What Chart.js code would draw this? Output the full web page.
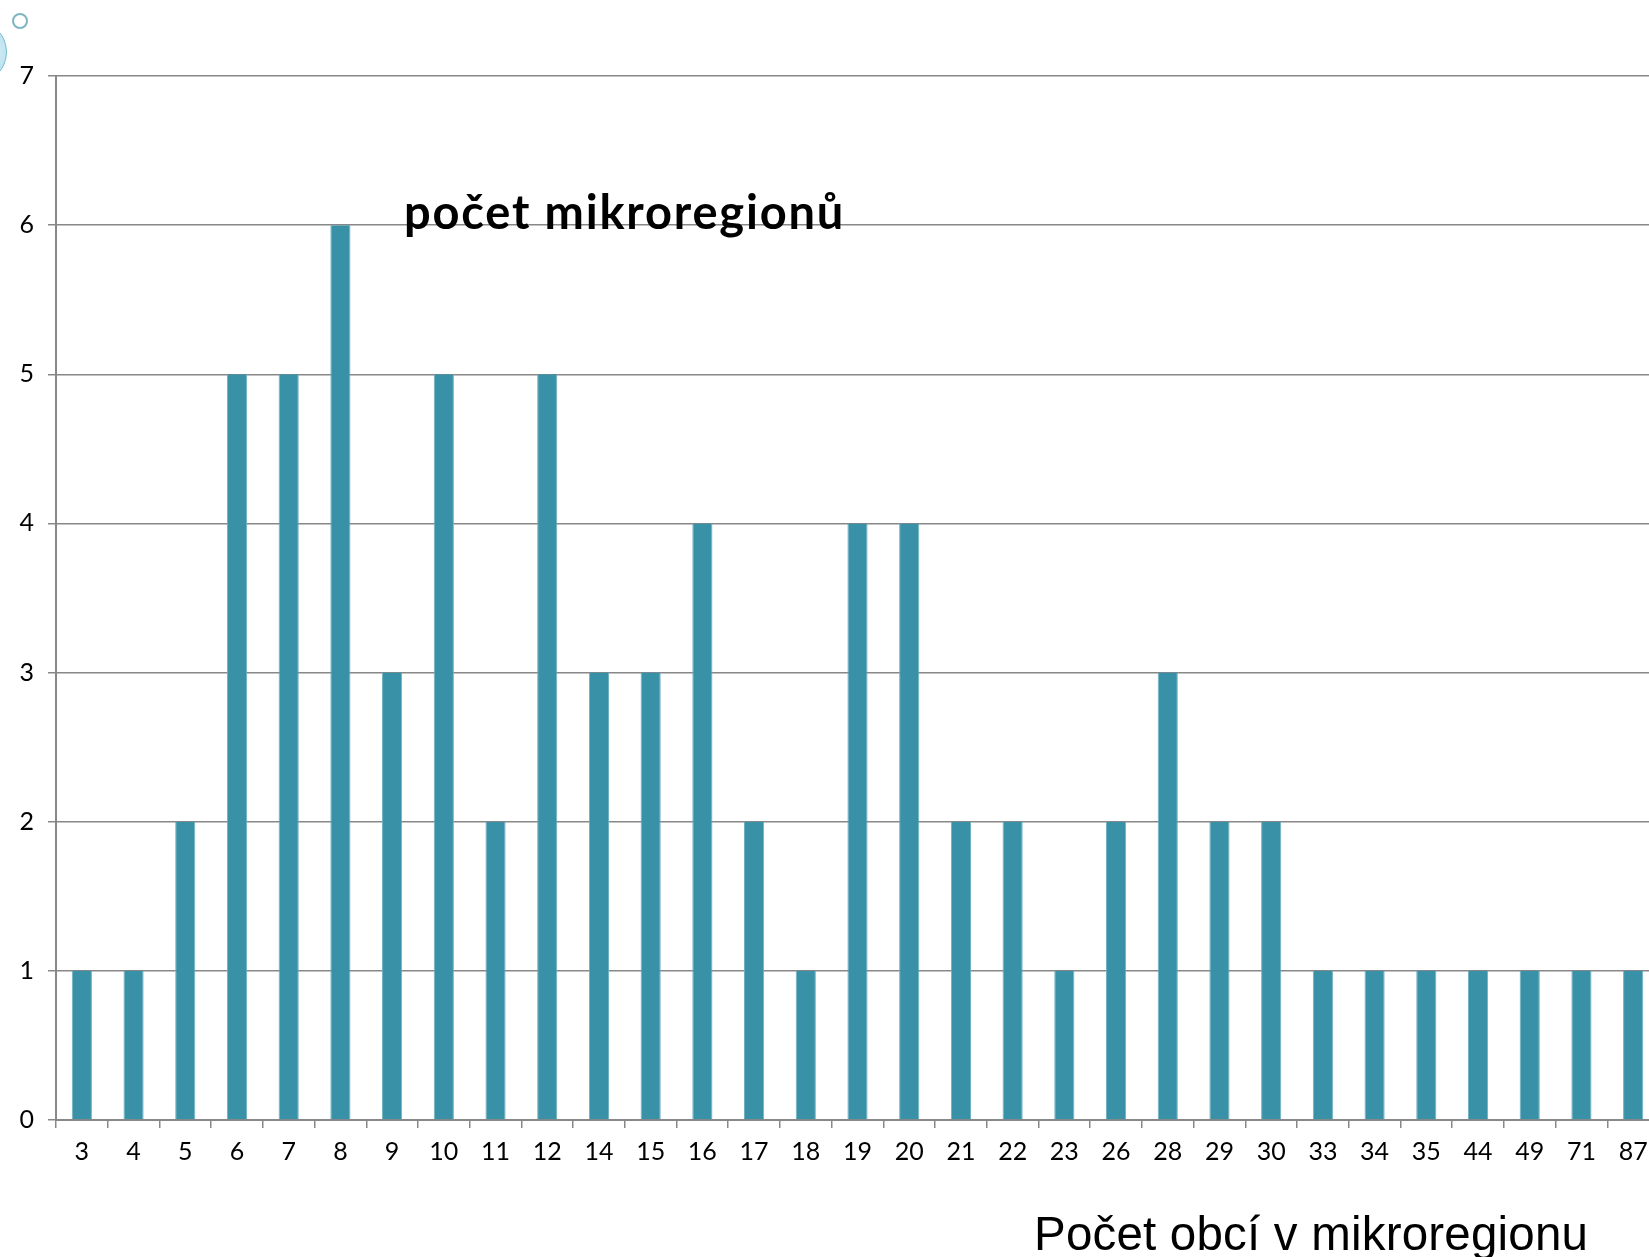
<!DOCTYPE html>
<html>
<head>
<meta charset="utf-8">
<script src="https://cdn.jsdelivr.net/npm/chart.js@4.4.0/dist/chart.umd.min.js"></script>
<style>
  html, body { margin: 0; padding: 0; background: #fff; overflow: hidden; }
  #wrap { position: absolute; left: 0; top: 0; width: 1680px; height: 1257px; }
  .title { position: absolute; white-space: nowrap; line-height: 1; color: #000; }
  #seriesTitle { left: 404px; top: 183px; font: bold 47px Lato, sans-serif; letter-spacing: 1.8px; }
  #axisTitle { left: 1034px; top: 1206px; font: 47.5px "Liberation Sans", Arial, sans-serif; letter-spacing: 0.2px; }
  .ring { position: absolute; left: 12px; top: 13px; width: 12px; height: 12px; border: 2.5px solid #7fb4c2; border-radius: 50%; }
  .bubble { position: absolute; left: -57px; top: 20px; width: 62px; height: 62px; border: 1.5px solid #72bcd2; border-radius: 50%;
            background: radial-gradient(circle at 70% 50%, #d6eef6, #9fd3e4); }
</style>
</head>
<body>
<div id="wrap"><canvas id="chart"></canvas></div>
<div class="ring"></div>
<div class="bubble"></div>
<div class="title" id="seriesTitle">počet mikroregionů</div>
<div class="title" id="axisTitle">Počet obcí v mikroregionu</div>
<script>
// DATA
const categories = ["3", "4", "5", "6", "7", "8", "9", "10", "11", "12", "14", "15", "16", "17", "18",
  "19", "20", "21", "22", "23", "26", "28", "29", "30", "33", "34", "35", "44", "49", "71", "87"];
const counts = [1, 1, 2, 5, 5, 6, 3, 5, 2, 5, 3, 3, 4, 2, 1, 4, 4, 2, 2, 1, 2, 3, 2, 2, 1, 1, 1, 1, 1, 1, 1];
const yTicks = [0, 1, 2, 3, 4, 5, 6, 7];

const gridColor = "#888888";
const tickFont = { family: "Lato, sans-serif", size: 25 };

const ctx = document.getElementById("chart").getContext("2d");

new Chart(ctx, {
  type: "bar",
  data: {
    labels: categories,
    datasets: [{
      label: "počet mikroregionů",
      data: counts,
      backgroundColor: "#3891a7",
      borderColor: "#6fb0c2",
      borderWidth: { left: 1, right: 1, top: 0, bottom: 0 },
      barPercentage: 0.39,
      categoryPercentage: 1
    }]
  },
  options: {
    responsive: true,
    maintainAspectRatio: false,
    animation: false,
    layout: { padding: { top: 76, left: 0, right: 21, bottom: 0 } },
    plugins: { legend: { display: false }, tooltip: { enabled: false } },
    scales: {
      x: {
        grid: { display: true, drawOnChartArea: false, offset: true, color: gridColor, lineWidth: 1.5, tickLength: 8 },
        border: { color: gridColor, width: 2 },
        ticks: { color: "#000", font: tickFont, padding: 9, maxRotation: 0, autoSkip: false },
        afterFit: (scale) => { scale.height = 137; }
      },
      y: {
        min: 0,
        max: 7,
        afterBuildTicks: (scale) => { scale.ticks = yTicks.map(v => ({ value: v })); },
        grid: { color: gridColor, lineWidth: 1.5, tickLength: 8 },
        border: { color: gridColor, width: 2 },
        ticks: { color: "#000", font: tickFont, padding: 14 },
        afterFit: (scale) => { scale.width = 56; }
      }
    }
  }
});
</script>
</body>
</html>
